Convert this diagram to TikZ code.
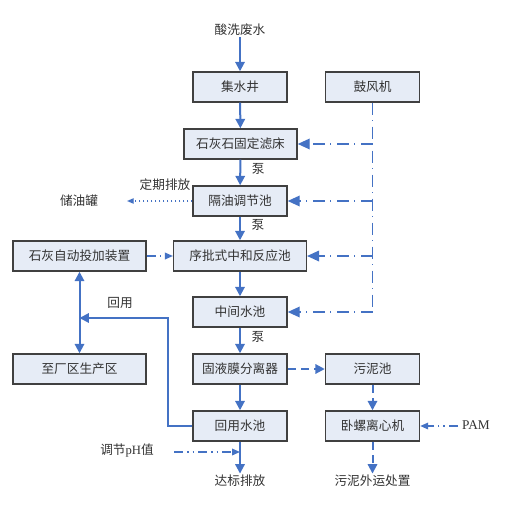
\documentclass[tikz,border=0pt]{standalone}
\usepackage{fontspec}
\setmainfont{Liberation Serif}
\newfontfamily\cjk{Noto Sans CJK SC}
\usetikzlibrary{positioning, arrows.meta}
\definecolor{flowblue}{RGB}{68,114,196}
\definecolor{boxfill}{RGB}{230,236,246}
\definecolor{boxline}{RGB}{64,64,64}
\definecolor{txt}{RGB}{50,50,50}
\tikzset{%
  block/.style   = {draw = boxline, fill = boxfill, line width = 1.1pt, rectangle,
    minimum height = 22.5pt, minimum width = 70.5pt, inner sep = 0pt,
    font = \cjk\fontsize{9.5}{11}\selectfont, text = txt},
  midblock/.style  = {block, minimum width = 84.75pt},
  wideblock/.style = {block, minimum width = 99.5pt},
  tag/.style     = {font = \cjk\fontsize{9.5}{11}\selectfont, text = txt, inner sep = 1pt},
  flow/.style    = {draw = flowblue, line width = 1.5pt, -{Triangle[width = 7pt, length = 7pt]}},
  air/.style     = {draw = flowblue, line width = 1pt,
    dash pattern = on 9pt off 4pt on 1pt off 4pt, -{Triangle[width = 8pt, length = 9pt]}},
  airline/.style = {draw = flowblue, line width = 1pt,
    dash pattern = on 9pt off 4pt on 1pt off 4pt},
  dose/.style    = {draw = flowblue, line width = 1pt,
    dash pattern = on 7pt off 3pt on 1pt off 3pt on 1pt off 3pt, -{Triangle[width = 5pt, length = 6pt]}},
  drain/.style   = {draw = flowblue, line width = 1pt, dotted, -{Triangle[width = 4pt, length = 5pt]}},
  sludge/.style  = {draw = flowblue, line width = 1.5pt, dash pattern = on 6pt off 4pt,
    -{Triangle[width = 7pt, length = 7pt]}}
}

\begin{document}
\begin{tikzpicture}[x = 0.75pt, y = -0.75pt]
\useasboundingbox (0,0) rectangle (511,513);
% main line
\draw
	(240,87) node [block] (well) {集水井}
	(372.5,87) node [block] (blower) {鼓风机}
	(240.5,144) node [midblock] (bed) {石灰石固定滤床}
	(240,201) node [block] (oil) {隔油调节池}
	(240,256) node [wideblock] (sbr) {序批式中和反应池}
	(79.5,256) node [wideblock] (lime) {石灰自动投加装置}
	(240,312) node [block] (mid) {中间水池}
	(240,369) node [block] (mem) {固液膜分离器}
	(79.5,369) node [wideblock] (plant) {至厂区生产区}
	(372.5,369) node [block] (pit) {污泥池}
	(240,426) node [block] (reuse) {回用水池}
	(372.5,426) node [block] (cent) {卧螺离心机};
% free texts
\draw
	(240,30) node [tag] (inflow) {酸洗废水}
	(79,201) node [tag] (tank) {储油罐}
	(240,481) node [tag] (outflow) {达标排放}
	(372.5,481) node [tag] (haul) {污泥外运处置}
	(476,425) node [tag, font = \rmfamily\fontsize{10}{12}\selectfont] (pam) {PAM}
	(127,451) node [tag] (ph) {调节{\rmfamily pH}值};
% water lines
\draw[flow] (inflow) -- (well);
\draw[flow] (well) -- (bed);
\draw[flow] (bed) -- node [tag, right = 7pt, pos = 0.35] {泵} (oil);
\draw[flow] (oil) -- node [tag, right = 7pt, pos = 0.35] {泵} (sbr);
\draw[flow] (sbr) -- (mid);
\draw[flow] (mid) -- node [tag, right = 7pt, pos = 0.35] {泵} (mem);
\draw[flow] (mem) -- (reuse);
\draw[flow] (reuse) -- (outflow);
\draw[flow, {Triangle[width = 7pt, length = 7pt]}-{Triangle[width = 7pt, length = 7pt]}] (lime) -- (plant);
% reuse loop
\coordinate (turn) at (168,426);
\coordinate (back) at (79.5,318);
\draw[flow] (reuse) -- (turn) |- (back);
\node[tag] (reuselabel) at (120,303) {回用};
% air lines
\coordinate (a1) at (372.5,144);
\coordinate (a2) at (372.5,201);
\coordinate (a3) at (372.5,256);
\coordinate (a4) at (372.5,312);
\draw[airline] (blower) -- (a4);
\draw[air] (a1) -- (bed);
\draw[air] (a2) -- (oil);
\draw[air] (a3) -- (sbr);
\draw[air] (a4) -- (mid);
% side lines
\coordinate (tanktip) at (127,201);
\draw[drain] (oil) -- (tanktip);
\node[tag] (period) at (165,185) {定期排放};
\draw[dose] (lime) -- (sbr);
\draw[sludge] (mem) -- (pit);
\draw[sludge] (pit) -- (cent);
\draw[sludge] (cent) -- (haul);
\coordinate (pamstart) at (458,426);
\draw[dose] (pamstart) -- (cent);
\coordinate (phstart) at (174,452);
\coordinate (phend) at (240,452);
\draw[dose] (phstart) -- (phend);
\end{tikzpicture}
\end{document}
